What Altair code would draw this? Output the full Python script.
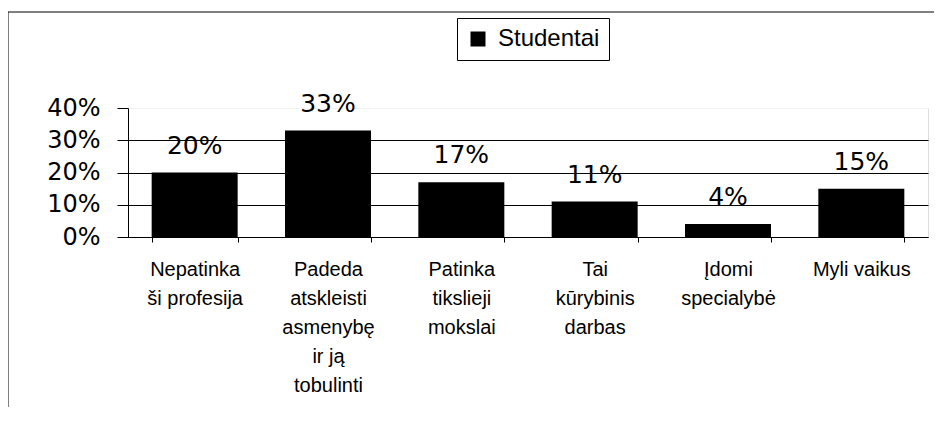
import altair as alt
import pandas as pd

categories = [
    "Nepatinka\nši profesija",
    "Padeda\natskleisti\nasmenybę\nir ją\ntobulinti",
    "Patinka\ntikslieji\nmokslai",
    "Tai\nkūrybinis\ndarbas",
    "Įdomi\nspecialybė",
    "Myli vaikus",
]
values = [0.20, 0.33, 0.17, 0.11, 0.04, 0.15]
series = "Studentai"
y_ticks = [0.0, 0.1, 0.2, 0.3, 0.4]

df = pd.DataFrame({"category": categories, "value": values, "series": [series] * len(categories)})

W, H = 800, 129

x_enc = alt.X(
    "category:N",
    sort=categories,
    scale=alt.Scale(paddingInner=0.355, paddingOuter=0.1775),
    axis=alt.Axis(
        title=None,
        labelAngle=0,
        labelExpr="split(datum.label, '\\n')",
        labelFont="Liberation Sans",
        labelFontSize=20,
        labelLineHeight=29,
        labelColor="black",
        labelAlign="center",
        labelBaseline="top",
        labelPadding=17,
        labelOverlap=False,
        labelLimit=300,
        tickBand="extent",
        tickSize=5,
        tickColor="black",
        domainColor="black",
        grid=False,
    ),
)

y_enc = alt.Y(
    "value:Q",
    scale=alt.Scale(domain=[0, 0.4], nice=False),
    axis=alt.Axis(
        title=None,
        values=y_ticks,
        tickCount=5,
        format=".0%",
        labelFont="DejaVu Sans",
        labelFontSize=24,
        labelColor="black",
        labelPadding=17,
        labelOverlap=False,
        labelFlush=False,
        labelBound=False,
        tickSize=11,
        tickColor="black",
        domainColor="black",
        grid=True,
        gridColor={"condition": {"test": "datum.value >= 0.4", "value": "#f2f2f2"}, "value": "black"},
        gridWidth=1,
    ),
)

base = alt.Chart(df).encode(x=x_enc, y=y_enc)

bars = base.mark_bar(stroke=None).encode(
    color=alt.Color(
        "series:N",
        scale=alt.Scale(range=["black"]),
        legend=alt.Legend(
            title=None,
            orient="none",
            legendX=329,
            legendY=-90,
            symbolType="square",
            symbolSize=225,
            symbolStrokeWidth=0,
            labelFont="Liberation Sans",
            labelFontSize=24,
            labelColor="black",
            labelOffset=8,
            padding=9,
            strokeColor="black",
            fillColor="white",
        ),
    ),
)

labels = base.mark_text(
    baseline="alphabetic", dy=-19, font="DejaVu Sans", fontSize=25, color="black"
).encode(
    text=alt.Text("value:Q", format=".0%"),
)

frame = alt.Chart(alt.Data(values=[{"a": 1}])).mark_rect(
    fill=None, stroke="black", strokeWidth=1
).encode(
    x=alt.value(-120), x2=alt.value(W + 60),
    y=alt.value(-96), y2=alt.value(H + 300),
)

chart = alt.layer(bars, labels, frame).properties(
    width=W,
    height=H,
    autosize=alt.AutoSizeParams(type="none"),
    padding={"left": 120, "top": 100, "right": 6, "bottom": 170},
).configure_view(stroke=None).configure(background="white")

chart.save("out.html", embed_options={"renderer": "svg", "actions": False})
